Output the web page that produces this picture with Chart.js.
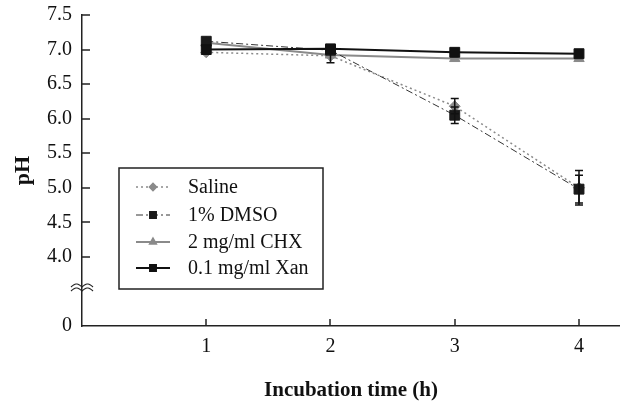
<!DOCTYPE html>
<html>
<head>
<meta charset="utf-8">
<script src="https://cdn.jsdelivr.net/npm/chart.js@4.4.1/dist/chart.umd.min.js"></script>
<style>
  html, body { margin: 0; padding: 0; background: #fff; }
  #wrap { width: 620px; height: 405px; }
</style>
</head>
<body>
<div id="wrap"><canvas id="grafico" width="620" height="405"></canvas></div>
<script>
// incubation hours
const horas = [1, 2, 3, 4];

// pH per group
const saline = [6.96, 6.91, 6.18, 5.0];
const dmso = [7.12, 6.99, 6.05, 4.98];
const chx = [7.1, 6.92, 6.87, 6.87];
const xan = [7.0, 7.01, 6.96, 6.94];

// error bars (SD)
const errSaline = [0, 0.1, 0.11, 0.25];
const errDmso = [0, 0, 0.12, 0.2];
const errChx = [0, 0, 0, 0];
const errXan = [0, 0, 0, 0];

const nomes = ["Saline", "1% DMSO", "2 mg/ml CHX", "0.1 mg/ml Xan"];

// broken axis: value 3 is drawn as "0"
const yTicks = [3, 4, 4.5, 5, 5.5, 6, 6.5, 7, 7.5];
const yLabels = ["0", "4.0", "4.5", "5.0", "5.5", "6.0", "6.5", "7.0", "7.5"];
const xTicks = [1, 2, 3, 4];

const fonte = "'Liberation Serif', 'Times New Roman', serif";

function pontos(arr) {
  return horas.map((h, i) => ({ x: h, y: arr[i] }));
}

const series = [
  { label: nomes[0], data: pontos(saline), err: errSaline, borderColor: "#8a8a8a", backgroundColor: "#8a8a8a",
    borderWidth: 1.5, borderDash: [2, 3], pointStyle: "rectRot", pointRadius: 5.5, order: 3 },
  { label: nomes[1], data: pontos(dmso), err: errDmso, borderColor: "#333", backgroundColor: "#1a1a1a",
    borderWidth: 1, borderDash: [7, 3, 2, 3], pointStyle: "rect", pointRadius: 7, order: 1 },
  { label: nomes[2], data: pontos(chx), err: errChx, borderColor: "#8a8a8a", backgroundColor: "#8a8a8a",
    borderWidth: 2, borderDash: [], pointStyle: "triangle", pointRadius: 6, order: 2 },
  { label: nomes[3], data: pontos(xan), err: errXan, borderColor: "#111", backgroundColor: "#111",
    borderWidth: 2, borderDash: [], pointStyle: "rect", pointRadius: 7, order: 0 },
];

function semMargem(scale) {
  scale.paddingLeft = 0;
  scale.paddingRight = 0;
  scale.paddingTop = 0;
  scale.paddingBottom = 0;
}

const extras = {
  id: "extras",
  afterDatasetsDraw(chart) {
    const ctx = chart.ctx;
    const xs = chart.scales.x, ys = chart.scales.y;
    ctx.save();
    ctx.strokeStyle = "#111";
    ctx.lineWidth = 1.5;
    series.forEach((s) => {
      s.data.forEach((p, i) => {
        const e = s.err[i];
        if (!e) return;
        const px = xs.getPixelForValue(p.x);
        const top = ys.getPixelForValue(p.y + e);
        const bot = ys.getPixelForValue(p.y - e);
        ctx.beginPath();
        ctx.moveTo(px, top); ctx.lineTo(px, bot);
        ctx.moveTo(px - 4, top); ctx.lineTo(px + 4, top);
        ctx.moveTo(px - 4, bot); ctx.lineTo(px + 4, bot);
        ctx.stroke();
      });
    });
    ctx.restore();
  },
  afterDraw(chart) {
    const ctx = chart.ctx;
    const xs = chart.scales.x, ys = chart.scales.y;
    const area = chart.chartArea;
    ctx.save();
    ctx.strokeStyle = "#222";
    ctx.lineWidth = 1.5;
    // inward ticks
    yTicks.forEach((v) => {
      if (v === 3) return;
      const py = Math.round(ys.getPixelForValue(v));
      ctx.beginPath();
      ctx.moveTo(area.left, py); ctx.lineTo(area.left + 8, py);
      ctx.stroke();
    });
    xTicks.forEach((v) => {
      const px = Math.round(xs.getPixelForValue(v));
      ctx.beginPath();
      ctx.moveTo(px, area.bottom); ctx.lineTo(px, area.bottom - 7);
      ctx.stroke();
    });
    // axis break (two wavy strokes)
    const by = ys.getPixelForValue(3.55);
    ctx.lineWidth = 1.2;
    [-1, 3].forEach((dy) => {
      ctx.beginPath();
      for (let k = -11; k <= 11; k++) {
        const x = area.left + k;
        const y = by + dy - 3 * Math.abs(Math.sin((Math.PI * k) / 11));
        if (k === -11) ctx.moveTo(x, y); else ctx.lineTo(x, y);
      }
      ctx.stroke();
    });

    // legend
    const lx = 119, ly = 168, lw = 204, lh = 121;
    ctx.lineWidth = 1.5;
    ctx.strokeStyle = "#222";
    ctx.strokeRect(lx, ly, lw, lh);
    const rows = [187, 215, 242, 268];
    ctx.font = "20px " + fonte;
    ctx.textBaseline = "middle";
    series.forEach((s, i) => {
      const y = rows[i];
      ctx.save();
      ctx.strokeStyle = s.borderColor;
      ctx.lineWidth = s.borderWidth;
      ctx.setLineDash(s.borderDash);
      ctx.beginPath();
      ctx.moveTo(136, y); ctx.lineTo(170, y);
      ctx.stroke();
      ctx.restore();
      ctx.save();
      ctx.fillStyle = s.backgroundColor;
      ctx.strokeStyle = s.backgroundColor;
      Chart.helpers.drawPoint(ctx, { pointStyle: s.pointStyle, radius: s.pointRadius * 0.65, borderWidth: 1 }, 153, y);
      ctx.restore();
      ctx.fillStyle = "#111";
      ctx.fillText(s.label, 188, y + 1);
    });
    ctx.restore();
  },
};

const ctx = document.getElementById("grafico").getContext("2d");
const grafico = new Chart(ctx, {
  type: "line",
  data: {
    datasets: series.map((s) => ({
      label: s.label,
      data: s.data,
      order: s.order,
      borderColor: s.borderColor,
      backgroundColor: s.backgroundColor,
      borderWidth: s.borderWidth,
      borderDash: s.borderDash,
      pointStyle: s.pointStyle,
      pointRadius: s.pointRadius,
      pointBackgroundColor: s.backgroundColor,
      pointBorderColor: s.backgroundColor,
      pointBorderWidth: 1,
      tension: 0,
      fill: false,
    })),
  },
  plugins: [extras],
  options: {
    responsive: false,
    animation: false,
    layout: { autoPadding: false, padding: { top: 15, right: 0, bottom: 0, left: 0 } },
    plugins: { legend: { display: false }, tooltip: { enabled: false } },
    scales: {
      x: {
        type: "linear",
        min: 0,
        max: 4.33,
        afterBuildTicks: (scale) => { scale.ticks = xTicks.map((v) => ({ value: v })); },
        afterFit: (scale) => { scale.height = 79; semMargem(scale); },
        grid: { display: false, drawTicks: false },
        border: { display: true, color: "#222", width: 1.5 },
        ticks: {
          autoSkip: false,
          maxRotation: 0,
          padding: 9,
          color: "#111",
          font: { family: fonte, size: 20 },
          callback: (v) => String(v),
        },
        title: {
          display: true,
          text: "Incubation time (h)",
          color: "#111",
          font: { family: fonte, size: 21, weight: "bold" },
          padding: { top: 0, bottom: 2 },
        },
      },
      y: {
        type: "linear",
        min: 3,
        max: 7.5,
        afterBuildTicks: (scale) => { scale.ticks = yTicks.map((v) => ({ value: v })); },
        afterFit: (scale) => { scale.width = 82; semMargem(scale); },
        grid: { display: false, drawTicks: false },
        border: { display: true, color: "#222", width: 1.5 },
        ticks: {
          autoSkip: false,
          padding: 10,
          color: "#111",
          font: { family: fonte, size: 20 },
          callback: (v, i) => yLabels[i],
        },
        title: {
          display: true,
          text: "pH",
          color: "#111",
          font: { family: fonte, size: 22, weight: "bold" },
          padding: { top: 10, bottom: 0 },
        },
      },
    },
  },
});
</script>
</body>
</html>
